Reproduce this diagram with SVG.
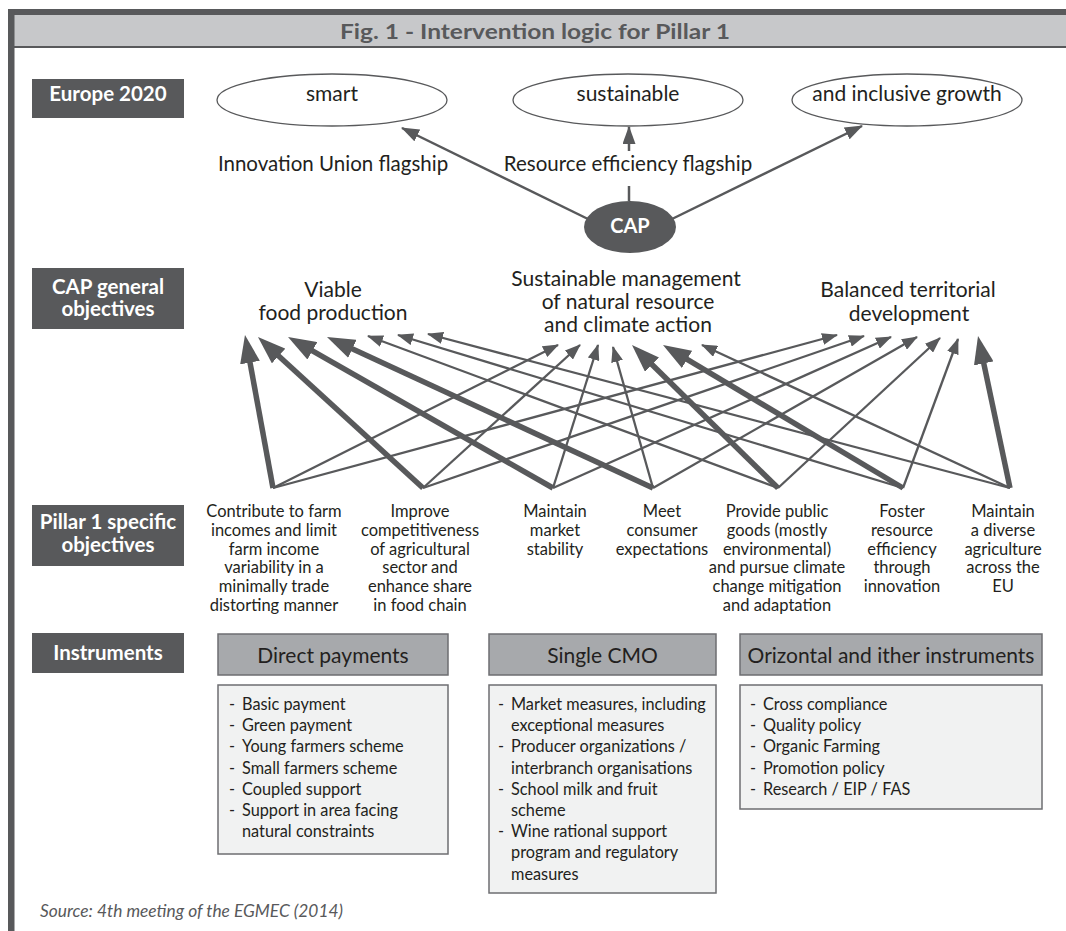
<svg xmlns="http://www.w3.org/2000/svg" width="1066" height="931" viewBox="0 0 1066 931">
<defs>
<marker id="ah" markerUnits="userSpaceOnUse" markerWidth="16" markerHeight="12" refX="15" refY="6" orient="auto"><path d="M0,0 L16,6 L0,12 z" fill="#58595b"/></marker>
<marker id="ahE" markerUnits="userSpaceOnUse" markerWidth="18" markerHeight="13" refX="17" refY="6.5" orient="auto"><path d="M0,0 L18,6.5 L0,13 z" fill="#58595b"/></marker>
<marker id="ahT" markerUnits="userSpaceOnUse" markerWidth="28" markerHeight="20" refX="14" refY="10" orient="auto"><path d="M0,0 L28,10 L0,20 z" fill="#58595b"/></marker>
</defs>
<style>
text { font-family: Lato, "Open Sans", sans-serif; fill:#231f20; }
.lbl rect { fill:#58595b; }
.lbl text { fill:#ffffff; font-weight:bold; font-size:20.5px; text-anchor:middle; }
.ell ellipse { fill:#ffffff; stroke:#58595b; stroke-width:1.3; }
.ell text { font-size:21px; text-anchor:middle; }
.fl { font-size:20.5px; text-anchor:middle; }
.go text { font-size:21px; text-anchor:middle; }
.so text { font-size:16.5px; text-anchor:middle; }
.hd rect { fill:#a7a9ac; stroke:#6d6e71; stroke-width:1.5; }
.hd text { font-size:21px; text-anchor:middle; }
.ls rect { fill:#f1f2f2; stroke:#6d6e71; stroke-width:1.5; }
.ls text { font-size:16.3px; }
.c { stroke:#58595b; fill:none; }
.t { stroke-width:2.3; marker-end:url(#ah); }
.e { stroke-width:2.5; marker-end:url(#ahE); }
.k { stroke-width:5.5; marker-end:url(#ahT); }
</style>

<g id="frame">
<rect x="8" y="9" width="1060" height="39" fill="#58595b"/>
<rect x="14" y="15" width="1054" height="31" fill="#c7c8ca"/>
<rect x="8" y="9" width="6.5" height="922" fill="#58595b"/>
<text x="535" y="39" text-anchor="middle" font-size="21.5" font-weight="bold" textLength="390" lengthAdjust="spacingAndGlyphs" style="fill:#58595b">Fig. 1 - Intervention logic for Pillar 1</text>
</g>

<g id="label-europe" class="lbl"><rect x="32" y="79" width="152" height="39"/><text x="108" y="101">Europe 2020</text></g>
<g id="label-general" class="lbl"><rect x="32" y="268" width="152" height="61"/><text x="108" y="294">CAP general</text><text x="108" y="316">objectives</text></g>
<g id="label-specific" class="lbl"><rect x="32" y="505" width="152" height="61"/><text x="108" y="529">Pillar 1 specific</text><text x="108" y="552">objectives</text></g>
<g id="label-instruments" class="lbl"><rect x="32" y="633" width="152" height="40"/><text x="108" y="660">Instruments</text></g>

<g id="smart" class="ell"><ellipse cx="332" cy="100" rx="115" ry="26"/><text x="332" y="101">smart</text></g>
<g id="sustainable" class="ell"><ellipse cx="628" cy="100" rx="115" ry="26"/><text x="628" y="101">sustainable</text></g>
<g id="inclusive" class="ell"><ellipse cx="907" cy="100" rx="115" ry="26"/><text x="907" y="101">and inclusive growth</text></g>

<g id="cap"><ellipse cx="630" cy="227" rx="46" ry="26" fill="#58595b"/><text x="630" y="233" text-anchor="middle" font-size="20" font-weight="bold" style="fill:#ffffff">CAP</text></g>

<g id="flagship-labels">
<text class="fl" x="333" y="171">Innovation Union flagship</text>
<text class="fl" x="628" y="171">Resource efficiency flagship</text>
</g>

<g id="go-viable" class="go"><text x="333" y="297">Viable</text><text x="333" y="320">food production</text></g>
<g id="go-sustainable" class="go"><text x="626" y="286">Sustainable management</text><text x="628" y="309">of natural resource</text><text x="628" y="332">and climate action</text></g>
<g id="go-balanced" class="go"><text x="908" y="297">Balanced territorial</text><text x="909" y="321">development</text></g>

<g id="so1" class="so"><text x="274" y="517">Contribute to farm</text><text x="274" y="535.8">incomes and limit</text><text x="274" y="554.6">farm income</text><text x="274" y="573.4">variability in a</text><text x="274" y="592.2">minimally trade</text><text x="274" y="611">distorting manner</text></g>
<g id="so2" class="so"><text x="420" y="517">Improve</text><text x="420" y="535.8">competitiveness</text><text x="420" y="554.6">of agricultural</text><text x="420" y="573.4">sector and</text><text x="420" y="592.2">enhance share</text><text x="420" y="611">in food chain</text></g>
<g id="so3" class="so"><text x="555" y="517">Maintain</text><text x="555" y="535.8">market</text><text x="555" y="554.6">stability</text></g>
<g id="so4" class="so"><text x="662" y="517">Meet</text><text x="662" y="535.8">consumer</text><text x="662" y="554.6">expectations</text></g>
<g id="so5" class="so"><text x="777" y="517">Provide public</text><text x="777" y="535.8">goods (mostly</text><text x="777" y="554.6">environmental)</text><text x="777" y="573.4">and pursue climate</text><text x="777" y="592.2">change mitigation</text><text x="777" y="611">and adaptation</text></g>
<g id="so6" class="so"><text x="902" y="517">Foster</text><text x="902" y="535.8">resource</text><text x="902" y="554.6">efficiency</text><text x="902" y="573.4">through</text><text x="902" y="592.2">innovation</text></g>
<g id="so7" class="so"><text x="1003" y="517">Maintain</text><text x="1003" y="535.8">a diverse</text><text x="1003" y="554.6">agriculture</text><text x="1003" y="573.4">across the</text><text x="1003" y="592.2">EU</text></g>

<g id="hd-direct" class="hd"><rect x="218" y="634" width="230" height="41"/><text x="333" y="663">Direct payments</text></g>
<g id="hd-cmo" class="hd"><rect x="489" y="634" width="227" height="41"/><text x="602.5" y="663">Single CMO</text></g>
<g id="hd-other" class="hd"><rect x="740" y="634" width="302" height="41"/><text x="891" y="663">Orizontal and ither instruments</text></g>

<g id="ls-direct" class="ls"><rect x="218" y="685" width="230" height="169"/>
<text x="229" y="710">-</text><text x="242" y="710">Basic payment</text>
<text x="229" y="731.2">-</text><text x="242" y="731.2">Green payment</text>
<text x="229" y="752.4">-</text><text x="242" y="752.4">Young farmers scheme</text>
<text x="229" y="773.6">-</text><text x="242" y="773.6">Small farmers scheme</text>
<text x="229" y="794.8">-</text><text x="242" y="794.8">Coupled support</text>
<text x="229" y="816">-</text><text x="242" y="816">Support in area facing</text>
<text x="242" y="837.2">natural constraints</text>
</g>
<g id="ls-cmo" class="ls"><rect x="489" y="685" width="227" height="208"/>
<text x="498" y="710">-</text><text x="511" y="710">Market measures, including</text>
<text x="511" y="731.2">exceptional measures</text>
<text x="498" y="752.4">-</text><text x="511" y="752.4">Producer organizations /</text>
<text x="511" y="773.6">interbranch organisations</text>
<text x="498" y="794.8">-</text><text x="511" y="794.8">School milk and fruit</text>
<text x="511" y="816">scheme</text>
<text x="498" y="837.2">-</text><text x="511" y="837.2">Wine rational support</text>
<text x="511" y="858.4">program and regulatory</text>
<text x="511" y="879.6">measures</text>
</g>
<g id="ls-other" class="ls"><rect x="740" y="685" width="302" height="124"/>
<text x="750" y="710">-</text><text x="763" y="710">Cross compliance</text>
<text x="750" y="731.2">-</text><text x="763" y="731.2">Quality policy</text>
<text x="750" y="752.4">-</text><text x="763" y="752.4">Organic Farming</text>
<text x="750" y="773.6">-</text><text x="763" y="773.6">Promotion policy</text>
<text x="750" y="794.8">-</text><text x="763" y="794.8">Research / EIP / FAS</text>
</g>

<g id="connectors">
<line class="c e" x1="588" y1="219" x2="402" y2="128"/>
<line class="c" x1="629" y1="201" x2="629" y2="186" stroke-width="2.5"/>
<line class="c e" x1="629" y1="151" x2="629" y2="127"/>
<line class="c e" x1="672" y1="219" x2="862" y2="126"/>

<line class="c t" x1="273" y1="488" x2="558" y2="345"/>
<line class="c t" x1="273" y1="488" x2="837" y2="335"/>
<line class="c t" x1="423" y1="488" x2="580" y2="345"/>
<line class="c t" x1="423" y1="488" x2="864" y2="336"/>
<line class="c t" x1="553" y1="488" x2="598" y2="345"/>
<line class="c t" x1="553" y1="488" x2="891" y2="337"/>
<line class="c t" x1="653" y1="488" x2="613" y2="347"/>
<line class="c t" x1="653" y1="488" x2="917" y2="337"/>
<line class="c t" x1="778" y1="488" x2="368" y2="336"/>
<line class="c t" x1="778" y1="488" x2="940" y2="338"/>
<line class="c t" x1="903" y1="488" x2="398" y2="335"/>
<line class="c t" x1="903" y1="488" x2="958" y2="339"/>
<line class="c t" x1="1010" y1="488" x2="428" y2="334"/>
<line class="c t" x1="1010" y1="488" x2="702" y2="345"/>

<line class="c k" x1="273" y1="488" x2="247.5" y2="348.8"/>
<line class="c k" x1="423" y1="488" x2="268.3" y2="346.5"/>
<line class="c k" x1="553" y1="488" x2="300.2" y2="343.9"/>
<line class="c k" x1="653" y1="488" x2="339.7" y2="342.9"/>
<line class="c k" x1="778" y1="488" x2="642.0" y2="354.8"/>
<line class="c k" x1="903" y1="488" x2="675.0" y2="352.2"/>
<line class="c k" x1="1010" y1="488" x2="980.9" y2="349.7"/>
</g>

<g id="source"><text x="40" y="917" font-size="16.5" font-style="italic" textLength="303" lengthAdjust="spacingAndGlyphs" style="fill:#58595b">Source: 4th meeting of the EGMEC (2014)</text></g>
</svg>
